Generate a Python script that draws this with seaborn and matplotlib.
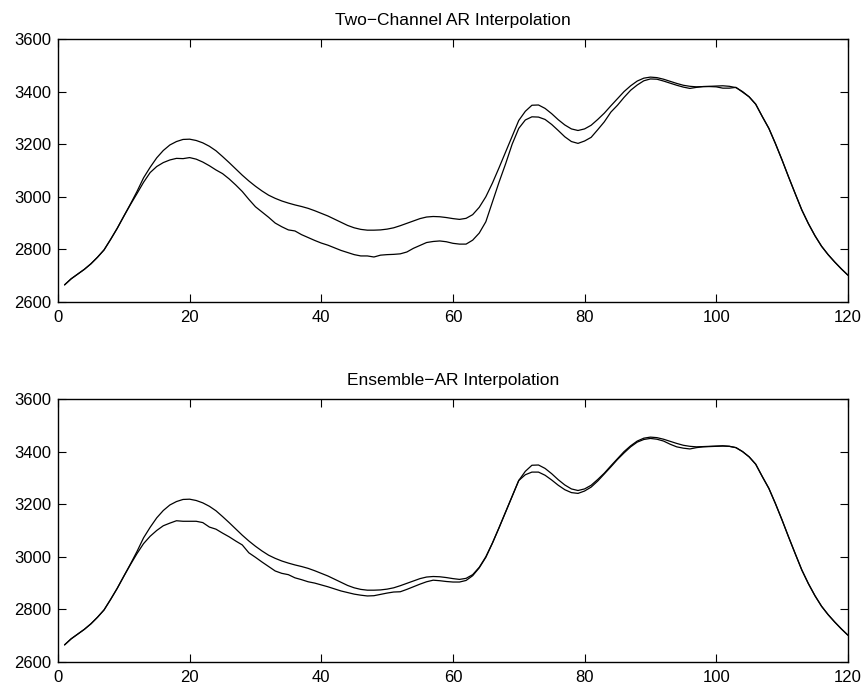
import numpy as np
import pandas as pd
import matplotlib
matplotlib.use("Agg")
import matplotlib.pyplot as plt
import seaborn as sns

# sample index
x = list(range(1, 121))

# reference trajectory (same in both panels)
original = [
    2665, 2688, 2706, 2724, 2745, 2770, 2798, 2838, 2880, 2926,
    2972, 3020, 3072, 3112, 3148, 3176, 3197, 3210, 3218, 3219,
    3214, 3205, 3192, 3175, 3153, 3130, 3106, 3082, 3060, 3040,
    3022, 3006, 2994, 2984, 2976, 2969, 2963, 2956, 2947, 2937,
    2927, 2915, 2903, 2891, 2882, 2876, 2873, 2873, 2874, 2877,
    2882, 2890, 2899, 2908, 2917, 2923, 2925, 2924, 2921, 2917,
    2914, 2918, 2932, 2960, 3000, 3052, 3110, 3170, 3230, 3290,
    3325, 3348, 3349, 3336, 3316, 3293, 3273, 3258, 3252, 3258,
    3272, 3294, 3318, 3346, 3373, 3400, 3422, 3440, 3451, 3455,
    3453, 3447, 3439, 3431, 3424, 3420, 3418, 3419, 3420, 3421,
    3422, 3420, 3415, 3400, 3380, 3352, 3305, 3260, 3202, 3140,
    3075, 3012, 2950, 2898, 2852, 2812, 2780, 2752, 2726, 2702,
]

# two-channel AR interpolation
two_channel = [
    2665, 2688, 2706, 2724, 2745, 2770, 2798, 2838, 2880, 2926,
    2970, 3012, 3055, 3092, 3115, 3130, 3140, 3146, 3145, 3149,
    3143, 3132, 3118, 3102, 3088, 3068, 3045, 3020, 2990, 2962,
    2942, 2922, 2900, 2886, 2874, 2870, 2856, 2845, 2834, 2824,
    2816, 2806, 2796, 2788, 2780, 2775, 2775, 2771, 2778, 2780,
    2781, 2783, 2790, 2804, 2815, 2826, 2830, 2832, 2829, 2823,
    2820, 2820, 2835, 2862, 2905, 2980, 3055, 3125, 3200, 3260,
    3292, 3304, 3303, 3294, 3275, 3252, 3228, 3210, 3203, 3212,
    3226, 3255, 3285, 3322, 3348, 3378, 3405, 3425, 3441, 3448,
    3447, 3440, 3432, 3424, 3417, 3412, 3416, 3419, 3419, 3418,
    3413, 3413, 3416, 3398, 3380, 3352, 3305, 3260, 3202, 3140,
    3075, 3012, 2950, 2898, 2852, 2812, 2780, 2752, 2726, 2702,
]

# ensemble AR interpolation
ensemble = [
    2665, 2688, 2706, 2724, 2745, 2770, 2798, 2838, 2880, 2926,
    2970, 3012, 3050, 3078, 3100, 3118, 3128, 3137, 3135, 3135,
    3135, 3130, 3113, 3105, 3090, 3076, 3060, 3045, 3015, 2998,
    2980, 2963, 2946, 2937, 2932, 2920, 2913, 2905, 2900, 2893,
    2886, 2878, 2870, 2864, 2858, 2854, 2851, 2852, 2857, 2862,
    2866, 2867, 2876, 2886, 2896, 2905, 2911, 2909, 2906, 2904,
    2904, 2910, 2928, 2958, 2998, 3052, 3110, 3170, 3230, 3290,
    3312, 3322, 3322, 3310, 3292, 3272, 3255, 3244, 3241, 3250,
    3265, 3288, 3315, 3342, 3370, 3395, 3418, 3436, 3446, 3450,
    3447, 3440, 3428, 3418, 3413, 3410, 3415, 3418, 3419, 3420,
    3421, 3420, 3415, 3400, 3380, 3352, 3305, 3260, 3202, 3140,
    3075, 3012, 2950, 2898, 2852, 2812, 2780, 2752, 2726, 2702,
]

titles = ["Two\u2212Channel AR Interpolation", "Ensemble\u2212AR Interpolation"]
x_ticks = [0, 20, 40, 60, 80, 100, 120]
y_ticks = [2600, 2800, 3000, 3200, 3400, 3600]

sns.set_style("ticks")
plt.rcParams["font.family"] = ["Liberation Sans", "DejaVu Sans"]
plt.rcParams["font.size"] = 12
plt.rcParams["text.color"] = "black"

fig = plt.figure(figsize=(8.68, 6.91), dpi=100)
ax_top = fig.add_axes([0.0668, 0.563, 0.910, 0.3806])
ax_bot = fig.add_axes([0.0668, 0.042, 0.910, 0.3806])

panels = [(ax_top, two_channel, titles[0]), (ax_bot, ensemble, titles[1])]
for ax, interp, title in panels:
    df = pd.DataFrame({"x": x, "original": original, "interp": interp})
    sns.lineplot(data=df, x="x", y="original", ax=ax, color="black",
                 linewidth=0.9, estimator=None)
    sns.lineplot(data=df, x="x", y="interp", ax=ax, color="black",
                 linewidth=0.9, estimator=None)
    ax.set_xlim(0, 120)
    ax.set_ylim(2600, 3600)
    ax.set_xticks(x_ticks)
    ax.set_yticks(y_ticks)
    ax.set_xlabel("")
    ax.set_ylabel("")
    ax.set_title(title, fontsize=12.5, pad=10, color="black")
    for side in ["top", "right", "left", "bottom"]:
        ax.spines[side].set_visible(True)
        ax.spines[side].set_linewidth(1.0)
        ax.spines[side].set_color("black")
    ax.tick_params(axis="both", direction="in", length=6, width=0.8,
                   top=True, right=True, labelsize=12, colors="black")
    ax.tick_params(axis="x", pad=6)
    ax.tick_params(axis="y", pad=5)

fig.savefig("out.png", dpi=100, facecolor="white")
